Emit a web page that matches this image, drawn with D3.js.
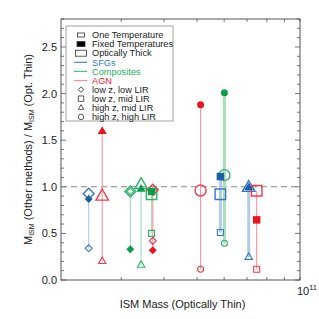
<!DOCTYPE html>
<html>
<head>
<meta charset="utf-8">
<script src="https://cdn.jsdelivr.net/npm/d3@7"></script>
<style>
  body { margin: 0; background: #fff; }
  svg { font-family: "Liberation Sans", Arial, Helvetica, sans-serif; }
</style>
</head>
<body>
<div id="chart"></div>
<script>
// galaxies (one per vertical line)
var ismMass = [2.41e10, 2.64e10, 3.19e10, 3.43e10, 3.68e10, 3.71e10, 5.12e10, 5.85e10, 6.01e10, 7.08e10, 7.47e10];
var sampleClass = ["SFG", "AGN", "Composite", "Composite", "Composite", "AGN", "AGN", "SFG", "Composite", "SFG", "AGN"];
var subsample = ["lowLow", "highMid", "lowLow", "highMid", "lowMid", "lowLow", "highHigh", "lowMid", "highHigh", "highMid", "lowMid"];
// ratio M_ISM(method) / M_ISM(optically thin)
var ratioOneTemp = [0.34, 0.20, 0.95, 0.16, 0.50, 0.42, 0.115, 0.51, 0.395, 0.245, 0.115];
var ratioFixedTemp = [0.868, 1.595, 0.33, 0.975, 0.95, 0.32, 1.88, 1.11, 2.01, 0.99, 0.645];
var ratioOptThick = [0.925, 0.896, 0.95, 1.02, 0.92, 0.968, 0.96, 0.92, 1.125, 0.99, 0.957];

var yMajorTicks = [0, 0.5, 1.0, 1.5, 2.0, 2.5];
var xMinorTicks = [3e10, 4e10, 5e10, 6e10, 7e10, 8e10, 9e10, 1e11];

var methodLegend = ["One Temperature", "Fixed Temperatures", "Optically Thick"];
var classLegend = ["SFGs", "Composites", "AGN"];
var subsampleLegend = ["low z, low LIR", "low z, mid LIR", "high z, mid LIR", "high z, high LIR"];

var width = 319, height = 319;
var margin = {top: 19, right: 19, bottom: 39, left: 61};

var colors = {
    SFG: {fill: "#1f5ea8", stroke: "#3a78c2", line: "#b4cbe8", legend: "#4a86c8", text: "#2f7fc8"},
    Composite: {fill: "#0a9e4a", stroke: "#2fb56a", line: "#a6dfbb", legend: "#40c880", text: "#22b35a"},
    AGN: {fill: "#e8141e", stroke: "#ee3b4a", line: "#f59aa2", legend: "#ff8a94", text: "#ee2030"}
};
var shapeOf = {lowLow: "diamond", lowMid: "square", highMid: "triangle", highHigh: "circle"};

var svg = d3.select("#chart").append("svg")
    .attr("width", width)
    .attr("height", height);

var x = d3.scaleLog().domain([2e10, 1e11]).range([margin.left, width - margin.right]);
var y = d3.scaleLinear().domain([0, 2.8]).range([height - margin.bottom, margin.top]);

var x0 = x.range()[0], x1 = x.range()[1], y0 = y.range()[0], y1 = y.range()[1];

// symbol path builder, size is a rough width in px
function symbolPath(shape, w) {
    if (shape === "diamond") return d3.symbol(d3.symbolSquare, w * w / 2)();
    if (shape === "square") return d3.symbol(d3.symbolSquare, w * w)();
    if (shape === "triangle") return d3.symbol(d3.symbolTriangle, Math.sqrt(3) / 4 * w * w)();
    return d3.symbol(d3.symbolCircle, Math.PI * w * w / 4)();
}
function symbolRotate(shape) { return shape === "diamond" ? " rotate(45)" : ""; }

var sizes = {
    small: {diamond: 7, square: 6, triangle: 7.5, circle: 6},
    fixed: {diamond: 8, square: 7.5, triangle: 9, circle: 7},
    thick: {diamond: 11, square: 10.5, triangle: 12.5, circle: 11}
};

// frame ticks
var ticks = svg.append("g").attr("stroke", "#555").attr("stroke-width", 0.8);
d3.range(0, 2.81, 0.1).forEach(function (v) {
    var major = Math.abs(v * 2 - Math.round(v * 2)) < 1e-6;
    var len = major ? 5 : 3;
    ticks.append("line").attr("x1", x0).attr("x2", x0 + len).attr("y1", y(v)).attr("y2", y(v));
    ticks.append("line").attr("x1", x1).attr("x2", x1 - len).attr("y1", y(v)).attr("y2", y(v));
});
xMinorTicks.forEach(function (v) {
    ticks.append("line").attr("x1", x(v)).attr("x2", x(v)).attr("y1", y0).attr("y2", y0 - 3);
    ticks.append("line").attr("x1", x(v)).attr("x2", x(v)).attr("y1", y1).attr("y2", y1 + 3);
});

svg.append("rect")
    .attr("x", x0).attr("y", y1)
    .attr("width", x1 - x0).attr("height", y0 - y1)
    .attr("fill", "none").attr("stroke", "#444").attr("stroke-width", 0.9);

// y tick labels
svg.append("g").selectAll("text").data(yMajorTicks).enter().append("text")
    .attr("x", x0 - 4)
    .attr("y", function (d) { return y(d) + 4; })
    .attr("text-anchor", "end")
    .attr("font-size", 11)
    .attr("fill", "#222")
    .text(function (d) { return d.toFixed(1); });

// x label 10^11
var xl = svg.append("text")
    .attr("x", x1 - 3).attr("y", y0 + 15)
    .attr("font-size", 11).attr("fill", "#222");
xl.append("tspan").text("10");
xl.append("tspan").attr("font-size", 7.5).attr("dy", -5).text("11");

svg.append("text")
    .attr("x", (x0 + x1) / 2 + 2).attr("y", y0 + 28)
    .attr("text-anchor", "middle")
    .attr("font-size", 11).attr("fill", "#222")
    .text("ISM Mass (Optically Thin)");

var yl = svg.append("text")
    .attr("transform", "translate(32," + ((y0 + y1) / 2) + ") rotate(-90)")
    .attr("text-anchor", "middle")
    .attr("font-size", 11).attr("fill", "#222");
yl.append("tspan").text("M");
yl.append("tspan").attr("font-size", 7).attr("dy", 2).text("ISM");
yl.append("tspan").attr("dy", -2).text(" (Other methods) / M");
yl.append("tspan").attr("font-size", 7).attr("dy", 2).text("ISM");
yl.append("tspan").attr("dy", -2).text(" (Opt. Thin)");

// unity line
svg.append("line")
    .attr("x1", x0).attr("x2", x1)
    .attr("y1", y(1)).attr("y2", y(1))
    .attr("stroke", "#888").attr("stroke-width", 1.1)
    .attr("stroke-dasharray", "6,4");

var idx = d3.range(ismMass.length);
var plot = svg.append("g");

// connecting lines
plot.selectAll("line.conn").data(idx).enter().append("line")
    .attr("class", "conn")
    .attr("x1", function (i) { return x(ismMass[i]); })
    .attr("x2", function (i) { return x(ismMass[i]); })
    .attr("y1", function (i) { return y(Math.min(ratioOneTemp[i], ratioFixedTemp[i], ratioOptThick[i])); })
    .attr("y2", function (i) { return y(Math.max(ratioOneTemp[i], ratioFixedTemp[i], ratioOptThick[i])); })
    .attr("stroke", function (i) { return colors[sampleClass[i]].line; })
    .attr("stroke-width", function (i) {
        return sampleClass[i] !== "AGN" && ismMass[i] > 5.5e10 ? 3 : 1.2;
    });

function drawMarkers(values, kind, filled) {
    plot.append("g").selectAll("path").data(idx).enter().append("path")
        .attr("d", function (i) { return symbolPath(shapeOf[subsample[i]], sizes[kind][shapeOf[subsample[i]]]); })
        .attr("transform", function (i) {
            return "translate(" + x(ismMass[i]) + "," + y(values[i]) + ")" + symbolRotate(shapeOf[subsample[i]]);
        })
        .attr("fill", function (i) { return filled ? colors[sampleClass[i]].fill : "#fff"; })
        .attr("fill-opacity", filled ? 1 : 0)
        .attr("stroke", function (i) { return filled ? "none" : colors[sampleClass[i]].stroke; })
        .attr("stroke-width", kind === "thick" ? 1.4 : 1.1);
}
drawMarkers(ratioOptThick, "thick", false);
drawMarkers(ratioOneTemp, "small", false);
drawMarkers(ratioFixedTemp, "fixed", true);

// legend
var lg = svg.append("g").attr("transform", "translate(66,26)");
lg.append("rect").attr("width", 107).attr("height", 95)
    .attr("fill", "#fff").attr("stroke", "#999").attr("stroke-width", 0.9);
var rowH = 9.1, symX = 15, txtX = 26, firstY = 9;
var rows = [];
methodLegend.forEach(function (t, k) { rows.push({text: t, kind: "method", k: k}); });
classLegend.forEach(function (t, k) { rows.push({text: t, kind: "class", k: k}); });
subsampleLegend.forEach(function (t, k) { rows.push({text: t, kind: "shape", k: k}); });
var classKeys = ["SFG", "Composite", "AGN"];
var shapeKeys = ["diamond", "square", "triangle", "circle"];
var methodBoxes = [[7, 4, false], [8, 5, true], [11, 6, false]];

rows.forEach(function (r, n) {
    var cy = firstY + n * rowH;
    if (r.kind === "method") {
        var b = methodBoxes[r.k];
        lg.append("rect").attr("x", symX - b[0] / 2).attr("y", cy - b[1] / 2)
            .attr("width", b[0]).attr("height", b[1])
            .attr("fill", b[2] ? "#000" : "#fff").attr("stroke", "#333").attr("stroke-width", 0.8);
    } else if (r.kind === "class") {
        lg.append("line").attr("x1", symX - 7).attr("x2", symX + 6).attr("y1", cy).attr("y2", cy)
            .attr("stroke", colors[classKeys[r.k]].legend).attr("stroke-width", 1.2);
    } else {
        var s = shapeKeys[r.k];
        lg.append("path").attr("d", symbolPath(s, 5.5))
            .attr("transform", "translate(" + symX + "," + cy + ")" + symbolRotate(s))
            .attr("fill", "none").attr("stroke", "#333").attr("stroke-width", 0.8);
    }
    lg.append("text").attr("x", txtX).attr("y", cy + 3.2)
        .attr("font-size", 9.2)
        .attr("fill", r.kind === "class" ? colors[classKeys[r.k]].text : "#222")
        .text(r.text);
});
</script>
</body>
</html>
